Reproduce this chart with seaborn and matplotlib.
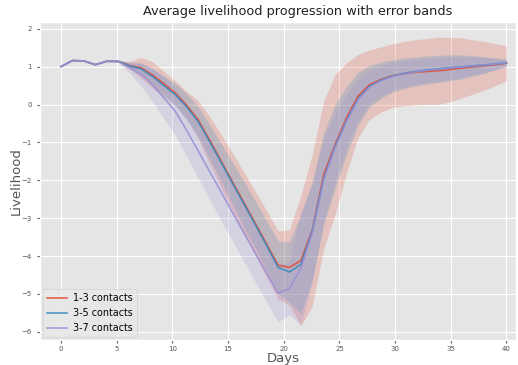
import numpy as np
import pandas as pd
import matplotlib
matplotlib.use("Agg")
import matplotlib.pyplot as plt
import seaborn as sns

# Sampling days (40 evenly spaced samples over 0..40)
days = [0.00, 1.03, 2.05, 3.08, 4.10, 5.13, 6.15, 7.18, 8.21, 9.23,
        10.26, 11.28, 12.31, 13.33, 14.36, 15.38, 16.41, 17.44, 18.46, 19.49,
        20.51, 21.54, 22.56, 23.59, 24.62, 25.64, 26.67, 27.69, 28.72, 29.74,
        30.77, 31.79, 32.82, 33.85, 34.87, 35.90, 36.92, 37.95, 38.97, 40.00]

series_names = ["1-3 contacts", "3-5 contacts", "3-7 contacts"]

mean_1_3 = [1.00, 1.16, 1.15, 1.05, 1.14, 1.14, 1.03, 0.97, 0.78, 0.55,
            0.30, -0.02, -0.40, -0.93, -1.48, -2.03, -2.58, -3.13, -3.68, -4.24,
            -4.30, -4.12, -3.32, -1.85, -1.05, -0.35, 0.22, 0.52, 0.66, 0.76,
            0.81, 0.85, 0.87, 0.89, 0.92, 0.96, 0.99, 1.02, 1.05, 1.09]
sd_1_3 = [0.00, 0.00, 0.00, 0.00, 0.00, 0.02, 0.10, 0.27, 0.35, 0.33,
          0.32, 0.36, 0.50, 0.62, 0.70, 0.76, 0.80, 0.84, 0.88, 0.90,
          1.00, 1.72, 2.00, 1.95, 1.85, 1.45, 1.10, 0.92, 0.86, 0.84,
          0.85, 0.86, 0.87, 0.89, 0.85, 0.80, 0.72, 0.65, 0.56, 0.46]

mean_3_5 = [1.00, 1.16, 1.15, 1.05, 1.14, 1.14, 1.02, 0.94, 0.74, 0.50,
            0.26, -0.06, -0.45, -0.97, -1.52, -2.07, -2.62, -3.17, -3.72, -4.30,
            -4.42, -4.22, -3.35, -1.95, -1.10, -0.42, 0.15, 0.48, 0.64, 0.75,
            0.82, 0.87, 0.91, 0.94, 0.97, 0.99, 1.02, 1.04, 1.07, 1.10]
sd_3_5 = [0.00, 0.00, 0.00, 0.00, 0.00, 0.02, 0.08, 0.15, 0.20, 0.25,
          0.30, 0.35, 0.40, 0.45, 0.50, 0.55, 0.60, 0.62, 0.65, 0.70,
          0.80, 1.30, 1.30, 1.20, 1.10, 0.90, 0.70, 0.55, 0.48, 0.43,
          0.40, 0.38, 0.37, 0.36, 0.34, 0.32, 0.27, 0.22, 0.16, 0.10]

mean_3_7 = [1.00, 1.16, 1.15, 1.05, 1.14, 1.14, 0.98, 0.80, 0.52, 0.18,
            -0.18, -0.68, -1.22, -1.76, -2.30, -2.84, -3.38, -3.92, -4.45, -4.98,
            -4.85, -4.32, -3.38, -1.98, -1.12, -0.44, 0.13, 0.46, 0.63, 0.74,
            0.81, 0.86, 0.90, 0.93, 0.96, 0.99, 1.02, 1.04, 1.07, 1.10]
sd_3_7 = [0.00, 0.00, 0.00, 0.00, 0.00, 0.03, 0.15, 0.30, 0.45, 0.55,
          0.62, 0.68, 0.72, 0.74, 0.75, 0.75, 0.76, 0.76, 0.76, 0.76,
          0.70, 1.50, 1.30, 1.10, 0.90, 0.70, 0.55, 0.45, 0.40, 0.37,
          0.35, 0.33, 0.32, 0.31, 0.30, 0.28, 0.24, 0.20, 0.14, 0.08]

means = [mean_1_3, mean_3_5, mean_3_7]
sds = [sd_1_3, sd_3_5, sd_3_7]

df = pd.concat(
    [pd.DataFrame({"Days": days, "Livelihood": m, "sd": s, "group": name})
     for name, m, s in zip(series_names, means, sds)],
    ignore_index=True,
)

plt.style.use("ggplot")
palette = ["#E24A33", "#348ABD", "#988ED5"]

fig = plt.figure(figsize=(5.18, 3.65), dpi=100)
ax = fig.add_axes([0.077, 0.068, 0.92, 0.872])

sns.lineplot(data=df, x="Days", y="Livelihood", hue="group",
             palette=palette, errorbar=None, linewidth=1.2, alpha=0.85, ax=ax)

for (name, grp), color in zip(df.groupby("group", sort=False), palette):
    ax.fill_between(grp["Days"], grp["Livelihood"] - grp["sd"],
                    grp["Livelihood"] + grp["sd"], color=color, alpha=0.22,
                    linewidth=0)

ax.set_xlim(-1.9, 40.9)
ax.set_ylim(-6.22, 2.18)
ax.set_xticks(range(0, 41, 5))
ax.set_yticks(range(-6, 3))
ax.tick_params(axis="both", labelsize=5, colors="#555555", length=2.5)
ax.tick_params(axis="x", pad=1.5)
ax.set_xlabel("Days", fontsize=9.5, color="#555555")
ax.set_ylabel("Livelihood", fontsize=9.5, color="#555555")
ax.xaxis.set_label_coords(0.51, -0.037)
ax.yaxis.set_label_coords(-0.036, 0.5)
ax.set_title("Average livelihood progression with error bands",
             fontsize=9.3, color="#222222", x=0.54, pad=5)

leg = ax.legend(loc="lower left", fontsize=6.9, handlelength=2.1,
                handletextpad=0.6, borderaxespad=0.3, labelspacing=0.5,
                borderpad=0.45)
leg.get_frame().set_facecolor("#E8E8E8")

fig.savefig("out.png", dpi=100)
